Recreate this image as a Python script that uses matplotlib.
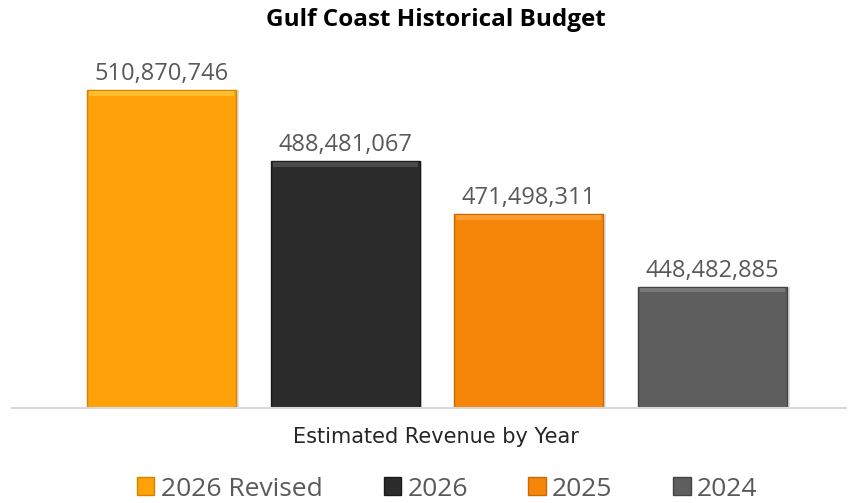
import matplotlib
matplotlib.use("Agg")
import matplotlib.pyplot as plt
from matplotlib.patches import Patch

# budget per year (dollars)
years = ["2026 Revised", "2026", "2025", "2024"]
revenue = [510870746, 488481067, 471498311, 448482885]
colors = ["#FFA108", "#2B2B2B", "#F5860A", "#5E5E5E"]
edges = ["#D08400", "#1A1A1A", "#C86A00", "#444444"]
highlights = ["#FFC83A", "#555555", "#FFA640", "#858585"]

plt.rcParams['font.family'] = ['Open Sans', 'DejaVu Sans']

fig = plt.figure(figsize=(8.48, 5.03), dpi=100)
ax = fig.add_axes([12 / 848, 1 - 408 / 503, 834 / 848, (408 - 60) / 503])

x = list(range(len(years)))
w = 0.81

# soft drop shadow
ax.bar([i + 0.015 for i in x], revenue, width=w, color="#000000", alpha=0.12,
       zorder=1)
ax.bar(x, revenue, width=w, color=colors, edgecolor=edges,
       linewidth=1.0, zorder=2)

# bevel strip along the top of each bar
bevel = 1.5e6
ax.bar(x, [bevel] * len(x), bottom=[v - bevel * 1.2 for v in revenue],
       width=w * 0.975, color=highlights, alpha=0.75, linewidth=0, zorder=3)

for i, v in enumerate(revenue):
    ax.text(i, v + 1.3e6, f"{v:,}", ha="center", va="bottom",
            fontsize=17, color="#595959")

ax.set_ylim(410e6, 520.5e6)
ax.set_xlim(-0.8125, 3.7255)
ax.set_yticks([])
ax.set_xticks([])
for s in ["top", "right", "left"]:
    ax.spines[s].set_visible(False)
ax.spines["bottom"].set_color("#D9D9D9")
ax.spines["bottom"].set_linewidth(1.5)

fig.text(436 / 848, 1 - 20 / 503, "Gulf Coast Historical Budget", ha="center",
         va="center", fontsize=17.5, fontweight="bold", color="#000000")
fig.text(436 / 848, 1 - 437 / 503, "Estimated Revenue by Year", ha="center",
         va="center", fontsize=15, color="#262626", family="DejaVu Sans")

handles = [Patch(facecolor=c, edgecolor=e, linewidth=1) for c, e in zip(colors, edges)]
fig.legend(handles, years, loc="center", bbox_to_anchor=(447.5 / 848, 1 - 489 / 503),
           ncol=4, frameon=False, fontsize=19, labelcolor="#595959",
           handlelength=0.65, handleheight=0.65, handletextpad=0.25,
           columnspacing=2.3, borderpad=0)

fig.savefig("out.png", dpi=100)
